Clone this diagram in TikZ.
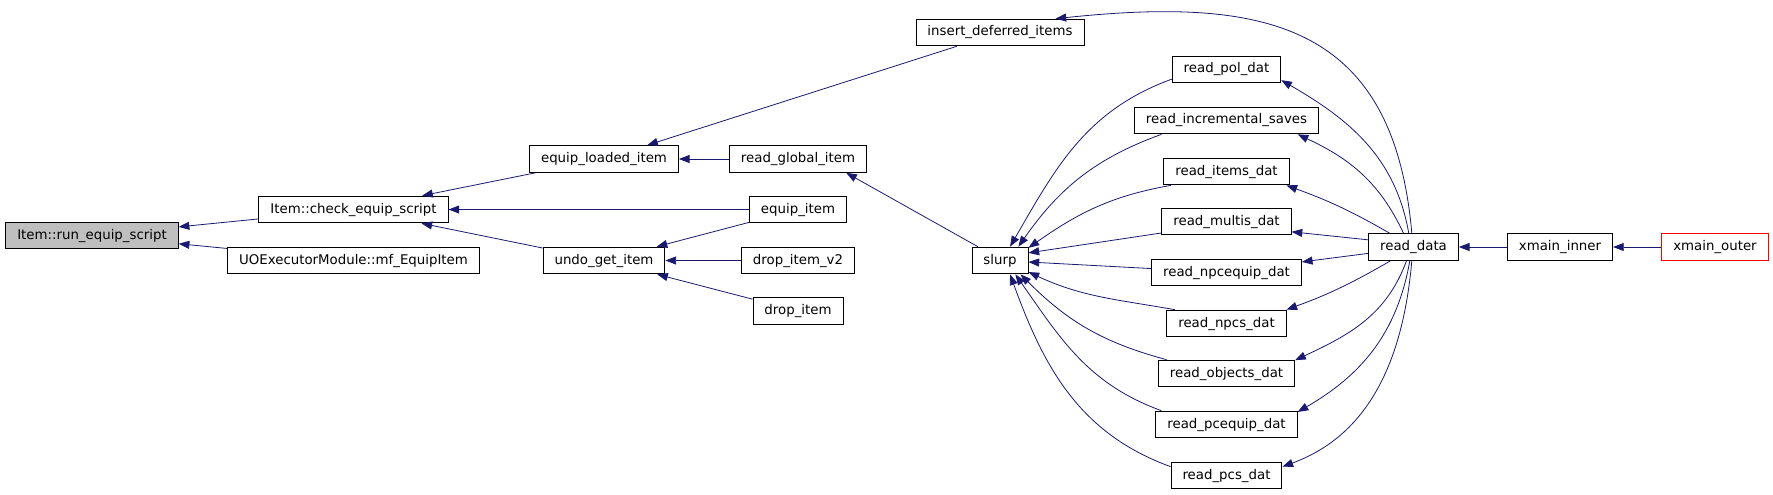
\documentclass[tikz,border=0pt]{standalone}
\usepackage{fontspec}
\setmainfont{DejaVu Sans}
\usetikzlibrary{arrows.meta}
\definecolor{myedge}{RGB}{25,25,112}
\definecolor{myroot}{RGB}{191,191,191}
\definecolor{myred}{RGB}{255,0,0}
\newcommand{\colA}{92}
\newcommand{\colB}{353.5}
\newcommand{\colC}{604}
\newcommand{\colD}{798}
\newcommand{\colE}{1000}
\newcommand{\colF}{1226.5}
\newcommand{\colG}{1413.5}
\newcommand{\colH}{1560}
\newcommand{\colI}{1715}
\tikzset{
    fn/.style={draw, rectangle, line width=0.75pt, minimum height=20pt, inner xsep=8.6pt, inner ysep=0pt, font=\fontsize{10}{12}\selectfont},
    root/.style={fn, fill=myroot},
    outerfn/.style={fn, draw=myred},
    call/.style={draw=myedge, line width=0.6pt, -{Triangle[length=8pt, width=6pt]}}
}

\begin{document}
\begin{tikzpicture}[x=0.75pt, y=0.75pt]
            \useasboundingbox (0,0) rectangle (1773,-494);

            \path
                node[root] (run) at (\colA,-235.5) {Item::run\_equip\_script}
                node[fn] (check) at (\colB,-209.5) {Item::check\_equip\_script}
                node[fn] (uoexec) at (\colB,-260.5) {UOExecutorModule::mf\_EquipItem}
                node[fn] (eloaded) at (\colC,-159) {equip\_loaded\_item}
                node[fn] (undoget) at (\colC,-260.5) {undo\_get\_item}
                node[fn] (rglobal) at (\colD,-159) {read\_global\_item}
                node[fn] (equipitem) at (\colD,-209.5) {equip\_item}
                node[fn] (dropv2) at (\colD,-260.5) {drop\_item\_v2}
                node[fn] (dropitem) at (\colD,-311) {drop\_item}
                node[fn] (insdef) at (\colE,-32.5) {insert\_deferred\_items}
                node[fn] (slurp) at (\colE,-260.5) {slurp};

            \path
                node[fn] (rpol) at (\colF,-69.5) {read\_pol\_dat}
                node[fn] (rinc) at (\colF,-120.5) {read\_incremental\_saves}
                node[fn] (ritems) at (\colF,-171.5) {read\_items\_dat}
                node[fn] (rmultis) at (\colF,-221.5) {read\_multis\_dat}
                node[fn] (rnpcequip) at (\colF,-272.5) {read\_npcequip\_dat}
                node[fn] (rnpcs) at (\colF,-323.5) {read\_npcs\_dat}
                node[fn] (robjects) at (\colF,-373.5) {read\_objects\_dat}
                node[fn] (rpcequip) at (\colF,-424.5) {read\_pcequip\_dat}
                node[fn] (rpcs) at (\colF,-475.5) {read\_pcs\_dat}
                node[fn] (rdata) at (\colG,-247) {read\_data}
                node[fn] (xinner) at (\colH,-247) {xmain\_inner}
                node[outerfn] (xouter) at (\colI,-247) {xmain\_outer};

            % left half
            \draw[call] (check) -- (run);
            \draw[call] (uoexec) -- (run);
            \draw[call] (eloaded) -- (check);
            \draw[call] (equipitem) -- (check);
            \draw[call] (undoget) -- (check);
            \draw[call] (insdef) -- (eloaded);
            \draw[call] (rglobal) -- (eloaded);
            \draw[call] (equipitem) -- (undoget);
            \draw[call] (dropv2) -- (undoget);
            \draw[call] (dropitem) -- (undoget);
            \draw[call] (slurp.148) -- (rglobal.-16);

            % readers into slurp
            \draw[call] (rpol.190) to[out=200, in=60] (slurp.54);
            \draw[call] (rinc.192) to[out=200, in=55] (slurp.37);
            \draw[call] (ritems.194) to[out=190, in=35] (slurp.24);
            \draw[call] (rmultis.190) -- (slurp.15);
            \draw[call] (rnpcequip.177) -- (slurp.-3);
            \draw[call] (rnpcs.165) to[out=170, in=-25] (slurp.-22);
            \draw[call] (robjects.167) to[out=165, in=-45] (slurp.-34);
            \draw[call] (rpcequip.168) to[out=160, in=-55] (slurp.-42);
            \draw[call] (rpcs.171) to[out=160, in=-70] (slurp.-54);

            % read_data fan
            \draw[call] (rdata.97) to[out=95, in=6, looseness=1.3] (insdef.14);
            \draw[call] (rdata.109) to[out=100, in=-30] (rpol.-11);
            \draw[call] (rdata.126) to[out=115, in=-25] (rinc.-11);
            \draw[call] (rdata.150) to[out=150, in=-20] (ritems.-13);
            \draw[call] (rdata.171) -- (rmultis.-9);
            \draw[call] (rdata.188) -- (rnpcequip.8);
            \draw[call] (rdata.211) to[out=210, in=20] (rnpcs.13);
            \draw[call] (rdata.243) to[out=250, in=25] (robjects.11);
            \draw[call] (rdata.255) to[out=260, in=30] (rpcequip.10);
            \draw[call] (rdata.263) to[out=265, in=20] (rpcs.9);

            \draw[call] (xinner) -- (rdata);
            \draw[call] (xouter) -- (xinner);

        \end{tikzpicture}
\end{document}
